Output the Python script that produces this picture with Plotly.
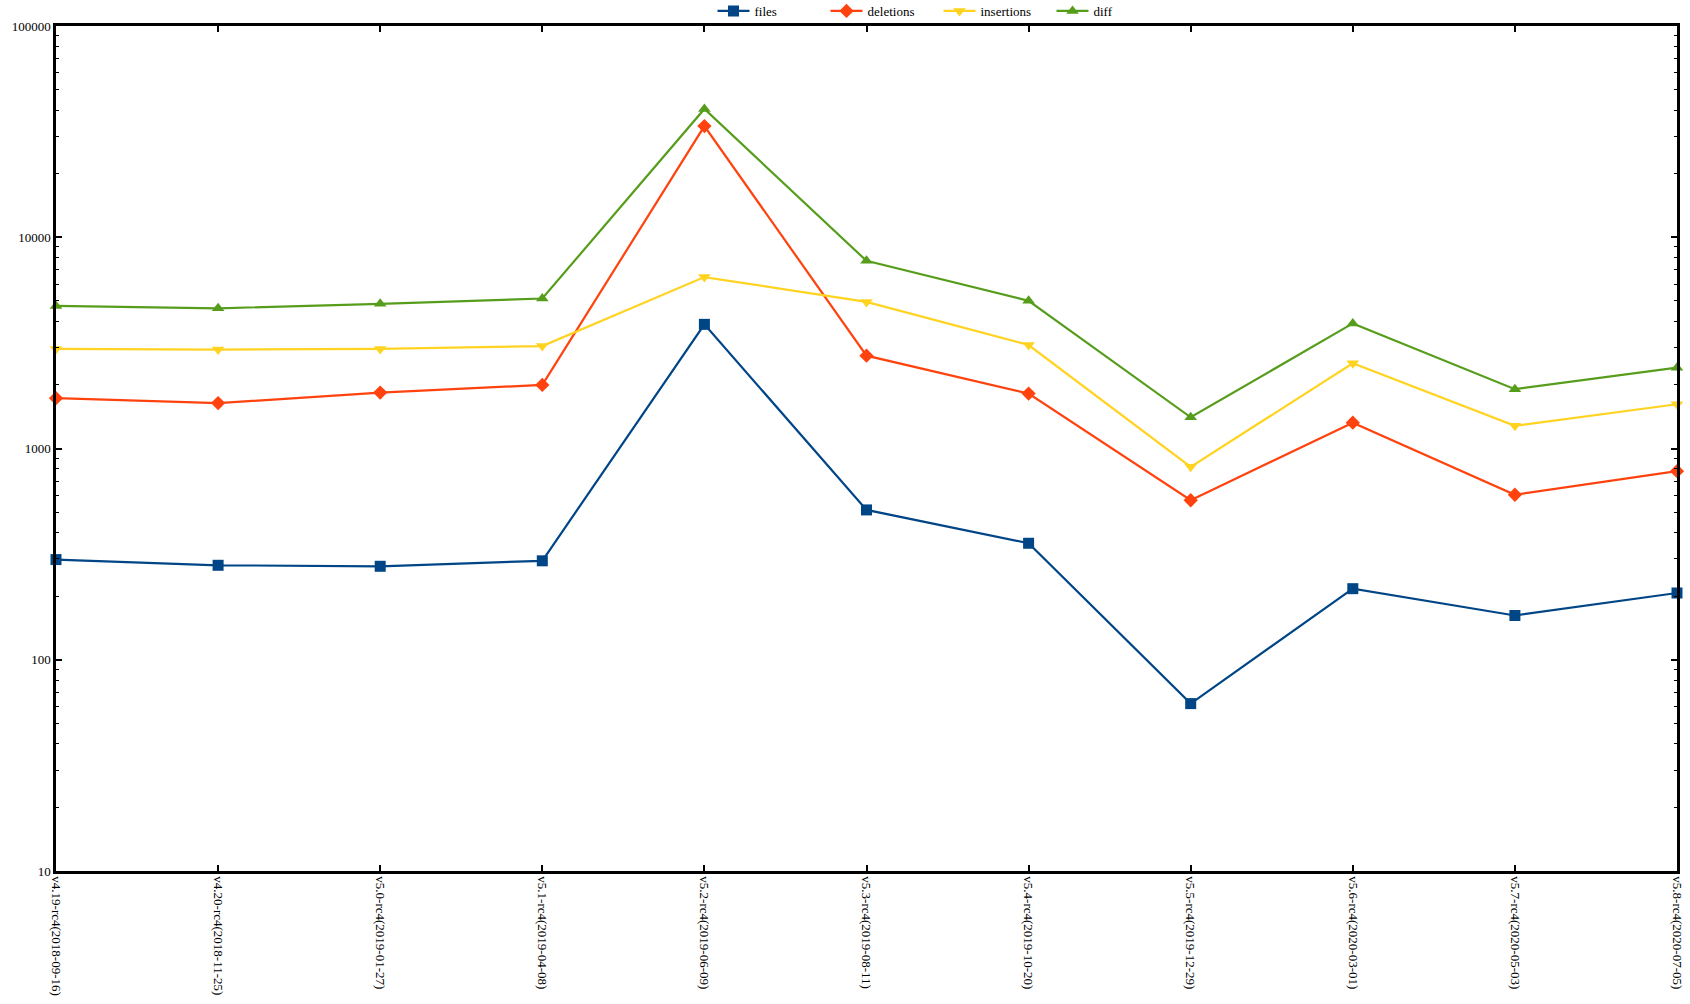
import plotly.graph_objects as go

categories = [
    "v4.19-rc4(2018-09-16)", "v4.20-rc4(2018-11-25)", "v5.0-rc4(2019-01-27)",
    "v5.1-rc4(2019-04-08)", "v5.2-rc4(2019-06-09)", "v5.3-rc4(2019-08-11)",
    "v5.4-rc4(2019-10-20)", "v5.5-rc4(2019-12-29)", "v5.6-rc4(2020-03-01)",
    "v5.7-rc4(2020-05-03)", "v5.8-rc4(2020-07-05)",
]
files = [298, 280, 277, 294, 3870, 512, 356, 62, 217, 162, 207]
deletions = [1730, 1640, 1840, 2000, 33600, 2750, 1820, 569, 1325, 604, 781]
insertions = [2960, 2940, 2960, 3055, 6480, 4940, 3090, 819, 2530, 1280, 1620]
diff = [4730, 4610, 4840, 5130, 40500, 7730, 5000, 1405, 3910, 1909, 2414]

y_tickvals = [10, 100, 1000, 10000, 100000]
y_ticktext = ["10", "100", "1000", "10000", "100000"]
y_minor_vals = [m * d for d in (10, 100, 1000, 10000) for m in range(2, 10)]

series = [
    ("files", files, "#004586", "square"),
    ("deletions", deletions, "#ff420e", "diamond"),
    ("insertions", insertions, "#ffd320", "triangle-down"),
    ("diff", diff, "#579d1c", "triangle-up"),
]

fig = go.Figure()
for name, vals, color, sym in series:
    fig.add_trace(go.Scatter(
        x=categories, y=vals, name=name, mode="lines+markers",
        line=dict(color=color, width=2.2),
        marker=dict(symbol=sym, size=11, color=color),
        cliponaxis=False,
    ))

FAM = "Liberation Serif, Times New Roman, serif"
font = dict(family=FAM, size=13, color="black")

fig.update_layout(
    width=1690, height=1004,
    margin=dict(l=56, r=13, t=26, b=133, autoexpand=False),
    paper_bgcolor="white", plot_bgcolor="white",
    font=font,
    showlegend=True,
    legend=dict(
        orientation="h", x=0.405, xanchor="left",
        yref="container", y=1 - 11 / 1004, yanchor="middle",
        font=dict(family=FAM, size=13, color="black"),
        bgcolor="rgba(0,0,0,0)", itemwidth=32, entrywidth=66,
        tracegroupgap=0,
    ),
    xaxis=dict(
        type="category", range=[0, len(categories) - 1],
        showline=True, linecolor="black", linewidth=2.5, mirror="allticks",
        ticks="inside", ticklen=6, tickwidth=1.5, tickcolor="black",
        tickangle=90, showgrid=False, zeroline=False,
        tickfont=font,
    ),
    yaxis=dict(
        type="log", range=[1, 5],
        tickvals=y_tickvals, ticktext=y_ticktext,
        showline=True, linecolor="black", linewidth=2.5, mirror="allticks",
        ticks="inside", ticklen=6, tickwidth=1.5, tickcolor="black",
        showgrid=False, zeroline=False,
        minor=dict(tickvals=y_minor_vals, ticks="inside", ticklen=3,
                   tickwidth=1.2, tickcolor="black", showgrid=False),
        tickfont=font,
    ),
)

fig.write_html("out.html")
